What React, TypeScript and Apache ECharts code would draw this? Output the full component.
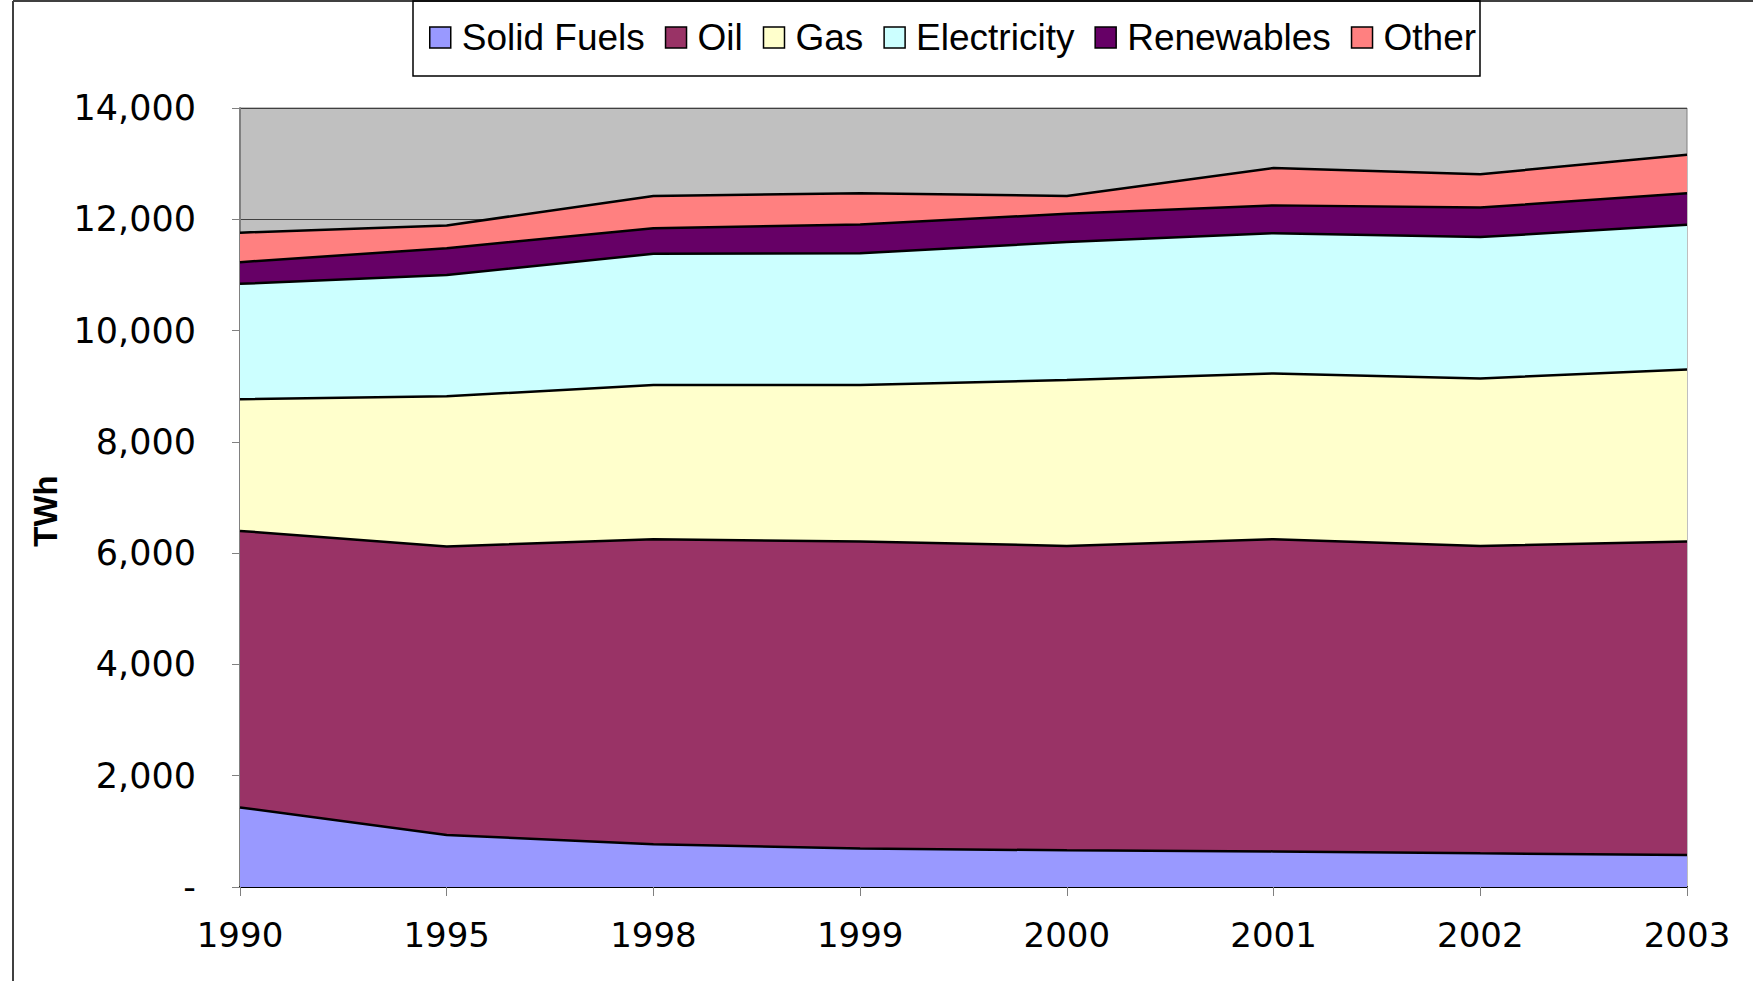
import React, { useEffect, useRef } from "react";
import * as echarts from "echarts";

const years = ["1990", "1995", "1998", "1999", "2000", "2001", "2002", "2003"];
const solidFuels = [1430, 935, 770, 690, 660, 640, 605, 575];
const oil = [4970, 5185, 5480, 5520, 5470, 5610, 5525, 5635];
const gas = [2365, 2700, 2770, 2810, 2980, 2980, 3010, 3090];
const electricity = [2075, 2180, 2360, 2370, 2480, 2520, 2540, 2600];
const renewables = [390, 480, 460, 515, 510, 500, 530, 570];
const other = [530, 410, 580, 565, 320, 670, 600, 690];

const seriesNames = ["Solid Fuels", "Oil", "Gas", "Electricity", "Renewables", "Other"];
const seriesData = [solidFuels, oil, gas, electricity, renewables, other];
const seriesColors = ["#9999FF", "#993366", "#FFFFCC", "#CCFFFF", "#660066", "#FF8080"];

export default function App() {
  const ref = useRef<HTMLDivElement>(null);
  useEffect(() => {
    document.body.style.margin = "0";
    const chart = echarts.init(ref.current!, null, { renderer: "svg" });
    chart.setOption({
      animation: false,
      backgroundColor: "#FFFFFF",
      legend: {
        left: 424,
        top: 14,
        icon: "rect",
        itemWidth: 21,
        itemHeight: 21,
        itemGap: 20,
        itemStyle: { borderColor: "#000000", borderWidth: 1.5 },
        textStyle: {
          fontFamily: "Liberation Sans, Arial, sans-serif",
          fontSize: 37,
          color: "#000000",
          padding: [0, 0, 0, 6],
        },
        data: seriesNames,
      },
      graphic: [
        {
          type: "line",
          shape: { x1: 13, y1: 1, x2: 1753, y2: 1 },
          style: { stroke: "#404040", lineWidth: 2 },
        },
        {
          type: "line",
          shape: { x1: 13, y1: 1, x2: 13, y2: 981 },
          style: { stroke: "#404040", lineWidth: 2 },
        },
        {
          type: "rect",
          shape: { x: 413, y: 1, width: 1067, height: 75 },
          style: { fill: "transparent", stroke: "#000000", lineWidth: 1.5 },
        },
        {
          type: "text",
          x: 45,
          y: 511,
          rotation: Math.PI / 2,
          style: {
            text: "TWh",
            fontFamily: "Liberation Sans, Arial, sans-serif",
            fontSize: 33,
            fontWeight: "bold",
            fill: "#000000",
            align: "center",
            verticalAlign: "middle",
          },
        },
      ],
      grid: {
        left: 240,
        right: 66,
        top: 108,
        bottom: 94,
        show: true,
        backgroundColor: "#C0C0C0",
        borderColor: "#808080",
        borderWidth: 1,
      },
      xAxis: {
        type: "category",
        data: years,
        boundaryGap: false,
        axisLine: { lineStyle: { color: "#000000", width: 2 } },
        axisTick: { show: true, length: 9, lineStyle: { color: "#808080" } },
        axisLabel: {
          margin: 31,
          fontFamily: "DejaVu Sans, sans-serif",
          fontSize: 34,
          color: "#000000",
        },
        splitLine: { show: false },
      },
      yAxis: {
        type: "value",
        min: 0,
        max: 14000,
        interval: 2000,
        axisLine: { show: true, lineStyle: { color: "#808080", width: 2 } },
        axisTick: { show: true, length: 8, lineStyle: { color: "#808080" } },
        axisLabel: {
          margin: 44,
          fontFamily: "DejaVu Sans, sans-serif",
          fontSize: 35,
          color: "#000000",
          formatter: (v: number) => (v === 0 ? "-" : v.toLocaleString("en-US")),
        },
        splitLine: { show: true, lineStyle: { color: "#404040", width: 1 } },
      },
      series: seriesNames.map((name, i) => ({
        name,
        type: "line",
        stack: "total",
        data: seriesData[i],
        symbol: "none",
        color: seriesColors[i],
        itemStyle: { color: seriesColors[i] },
        lineStyle: { color: "#000000", width: 2.5 },
        areaStyle: { color: seriesColors[i], opacity: 1 },
      })),
    });
    return () => chart.dispose();
  }, []);
  return <div ref={ref} style={{ width: 1753, height: 981 }} />;
}
